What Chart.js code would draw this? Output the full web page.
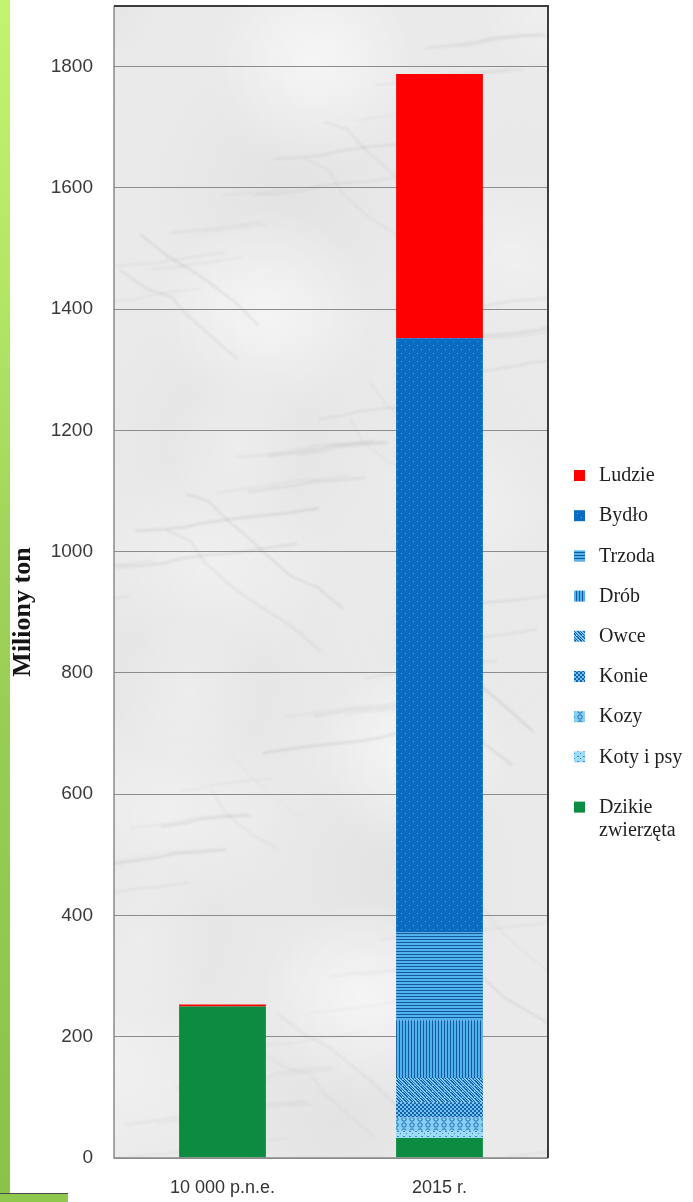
<!DOCTYPE html>
<html>
<head>
<meta charset="utf-8">
<script src="https://cdn.jsdelivr.net/npm/chart.js@4.4.1/dist/chart.umd.min.js"></script>
<style>
  html, body { margin: 0; padding: 0; background: #fbfbfb; }
  #wrap { position: relative; width: 693px; height: 1202px; overflow: hidden; }
  #strip { position: absolute; left: 0; top: 0; width: 10px; height: 1202px;
    background: linear-gradient(180deg, #c4f36f 0%, #b3e566 25%, #9dd158 50%, #93c950 75%, #8ac24a 100%); }
  #foot { position: absolute; left: 0; top: 1193px; width: 68px; height: 9px;
    background: #90c74d; border-top: 1px solid #4a4a4a; }
  canvas { position: absolute; left: 0; top: 0; }
</style>
</head>
<body>
<div id="wrap">
  <canvas id="c" width="693" height="1202"></canvas>
  <div id="strip"></div>
  <div id="foot"></div>
</div>
<script>
// Biomasa ssaków i ludzi – miliony ton
const categories = ['10 000 p.n.e.', '2015 r.'];
const ludzie   = [3, 436];
const bydlo    = [0, 980];
const trzoda   = [0, 145];
const drob     = [0, 95];
const owce     = [0, 40];
const konie    = [0, 25];
const kozy     = [0, 22];
const kotyIPsy = [0, 12];
const dzikie   = [250, 33];
const yMax = 1900;
const yStep = 200;

const canvas = document.getElementById('c');
const ctx = canvas.getContext('2d');

function tile(w, h, paint) {
  const t = document.createElement('canvas');
  t.width = w; t.height = h;
  paint(t.getContext('2d'), w, h);
  return ctx.createPattern(t, 'repeat');
}

const fills = {
  ludzie: '#ff0000',
  bydlo: tile(8, 8, (g) => {
    g.fillStyle = '#0a6cc0'; g.fillRect(0, 0, 8, 8);
    g.fillStyle = '#4aa8ea'; g.fillRect(1, 1, 1, 1); g.fillRect(5, 5, 1, 1);
  }),
  trzoda: tile(4, 3, (g) => {
    g.fillStyle = '#52b2ec'; g.fillRect(0, 0, 4, 3);
    g.fillStyle = '#14599f'; g.fillRect(0, 0, 4, 1);
  }),
  drob: tile(3, 4, (g) => {
    g.fillStyle = '#52b2ec'; g.fillRect(0, 0, 3, 4);
    g.fillStyle = '#14599f'; g.fillRect(0, 0, 1, 4);
  }),
  owce: tile(6, 6, (g) => {
    g.fillStyle = '#7ccaf3'; g.fillRect(0, 0, 6, 6);
    g.fillStyle = '#1a66b0';
    for (let i = 0; i < 6; i++) { g.fillRect(i, i, 2, 1); g.fillRect((i + 3) % 6, i, 1, 1); }
  }),
  konie: tile(4, 4, (g) => {
    g.fillStyle = '#72c2f0'; g.fillRect(0, 0, 4, 4);
    g.fillStyle = '#1760ab'; g.fillRect(0, 0, 2, 2); g.fillRect(2, 2, 2, 2);
  }),
  kozy: tile(8, 6, (g) => {
    g.fillStyle = '#86d0f4'; g.fillRect(0, 0, 8, 6);
    g.strokeStyle = '#1f6cb4'; g.lineWidth = 1;
    g.beginPath(); g.arc(4, 3, 2.2, 0, Math.PI * 2); g.stroke();
  }),
  koty: tile(6, 5, (g) => {
    g.fillStyle = '#9edcf6'; g.fillRect(0, 0, 6, 5);
    g.fillStyle = '#3b86c8'; g.fillRect(1, 1, 2, 1); g.fillRect(4, 3, 1, 1);
  }),
  dzikie: '#0b8c40'
};

const series = [
  { label: 'Dzikie zwierzęta', data: dzikie, fill: fills.dzikie },
  { label: 'Koty i psy', data: kotyIPsy, fill: fills.koty },
  { label: 'Kozy', data: kozy, fill: fills.kozy },
  { label: 'Konie', data: konie, fill: fills.konie },
  { label: 'Owce', data: owce, fill: fills.owce },
  { label: 'Drób', data: drob, fill: fills.drob },
  { label: 'Trzoda', data: trzoda, fill: fills.trzoda },
  { label: 'Bydło', data: bydlo, fill: fills.bydlo },
  { label: 'Ludzie', data: ludzie, fill: fills.ludzie }
];

// Marble-like plot background and frame, axis title, legend
const decor = {
  id: 'decor',
  beforeDraw(chart) {
    const a = chart.chartArea;
    const g = chart.ctx;
    const w = a.right - a.left, h = a.bottom - a.top;
    g.save();
    g.fillStyle = '#ffffff';
    g.fillRect(0, 0, chart.width, chart.height);
    g.beginPath(); g.rect(a.left, a.top, w, h); g.clip();
    g.fillStyle = '#eaeaea';
    g.fillRect(a.left, a.top, w, h);
    // soft light and dark clouds
    for (let k = 0; k < 30; k++) {
      const cx = a.left + ((k * 173) % 470) - 20;
      const cy = a.top + ((k * 311) % 1180) - 10;
      const r = 70 + (k * 29) % 90;
      const light = k % 3 !== 0;
      const grd = g.createRadialGradient(cx, cy, 0, cx, cy, r);
      grd.addColorStop(0, light ? 'rgba(255,255,255,0.35)' : 'rgba(200,200,200,0.2)');
      grd.addColorStop(1, light ? 'rgba(255,255,255,0)' : 'rgba(200,200,200,0)');
      g.fillStyle = grd;
      g.fillRect(cx - r, cy - r, 2 * r, 2 * r);
    }
    // faint irregular grey veins
    g.filter = 'blur(1.2px)';
    for (let k = 0; k < 70; k++) {
      g.lineWidth = 1 + (k % 3) * 0.5;
      g.strokeStyle = 'rgba(135,135,135,' + (0.08 + (k % 5) * 0.03) + ')';
      g.beginPath();
      let x = a.left + ((k * 97) % w) - 60;
      let y = a.top + ((k * 223) % h) + 40;
      g.moveTo(x, y);
      const n = 3 + (k % 6);
      for (let s = 0; s < n; s++) {
        x += 12 + 16 * Math.abs(Math.sin(k * 2.1 + s));
        y += (k % 4 === 0 ? 6 : -1) * (1 + 3 * Math.abs(Math.cos(k * 1.3 + s * 0.7)));
        g.lineTo(x, y);
      }
      g.stroke();
    }
    g.filter = 'none';
    g.restore();
  },
  afterDraw(chart) {
    const a = chart.chartArea;
    const g = chart.ctx;
    g.save();
    g.strokeStyle = '#8a8a8a'; g.lineWidth = 1.5;
    g.beginPath(); g.moveTo(a.left, a.top); g.lineTo(a.left, a.bottom); g.lineTo(a.right, a.bottom); g.stroke();
    g.strokeStyle = '#3c3c3c'; g.lineWidth = 2;
    g.beginPath(); g.moveTo(a.left, a.top); g.lineTo(a.right, a.top); g.lineTo(a.right, a.bottom); g.stroke();

    g.translate(23, 612);
    g.rotate(-Math.PI / 2);
    g.fillStyle = '#151515';
    g.font = 'bold 26px "Liberation Serif", serif';
    g.textAlign = 'center'; g.textBaseline = 'middle';
    g.fillText('Miliony ton', 0, 0);
    g.restore();

    g.save();
    g.font = '20px "Liberation Serif", serif';
    g.textBaseline = 'middle'; g.textAlign = 'left';
    const items = chart.data.datasets.slice().reverse();
    items.forEach((ds, i) => {
      let y = 476 + i * 40.2;
      if (i === items.length - 1) y += 10;
      g.fillStyle = ds.backgroundColor;
      g.fillRect(574, y - 6, 11, 11);
      g.fillStyle = '#1e1e1e';
      const parts = ds.label === 'Dzikie zwierzęta' ? ['Dzikie', 'zwierzęta'] : [ds.label];
      parts.forEach((p, j) => g.fillText(p, 599, y + j * 23));
    });
    g.restore();
  }
};

new Chart(ctx, {
  type: 'bar',
  data: {
    labels: categories,
    datasets: series.map(s => ({
      label: s.label,
      data: s.data,
      backgroundColor: s.fill,
      borderWidth: 0,
      barPercentage: 0.4,
      categoryPercentage: 1.0
    }))
  },
  options: {
    responsive: false,
    animation: false,
    devicePixelRatio: 1,
    layout: { padding: { top: 6, right: 145, left: 0, bottom: 0 } },
    plugins: { legend: { display: false }, tooltip: { enabled: false } },
    scales: {
      x: {
        stacked: true,
        grid: { display: false, drawTicks: false },
        border: { display: false },
        ticks: { color: '#333', padding: 19, font: { family: '"Liberation Sans", Arial, sans-serif', size: 18 } },
        afterFit(scale) { scale.height = 44; scale.paddingLeft = 0; scale.paddingRight = 0; }
      },
      y: {
        stacked: true,
        min: 0, max: yMax,
        grid: { color: '#8c8c8c', lineWidth: 1, drawTicks: false },
        border: { display: false },
        ticks: {
          stepSize: yStep, includeBounds: false, padding: 21,
          color: '#3a3a3a',
          font: { family: '"Liberation Sans", Arial, sans-serif', size: 19 },
          callback: (v) => String(v)
        },
        afterFit(scale) { scale.width = 114; scale.paddingTop = 0; scale.paddingBottom = 0; }
      }
    }
  },
  plugins: [decor]
});
</script>
</body>
</html>
